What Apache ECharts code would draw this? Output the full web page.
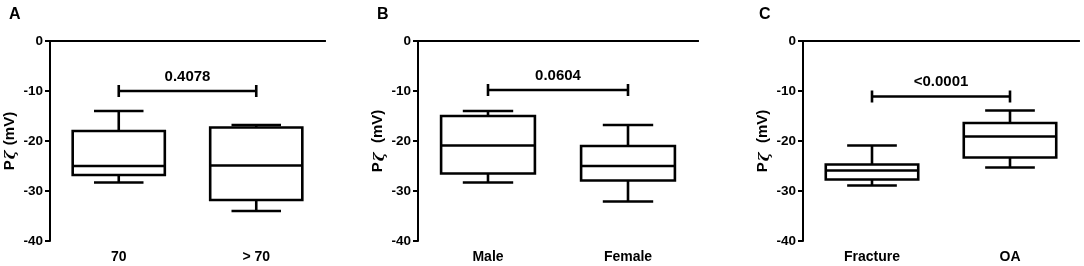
<!DOCTYPE html>
<html>
<head>
<meta charset="utf-8">
<script src="https://cdn.jsdelivr.net/npm/echarts@6/dist/echarts.min.js"></script>
<style>
html,body{margin:0;padding:0;background:#fff;}
#chart{width:1084px;height:266px;}
</style>
</head>
<body>
<div id="chart"></div>
<script>
// ---- data ----
const panelLetters = ['A', 'B', 'C'];
const categoriesA = ['70', '> 70'];
const categoriesB = ['Male', 'Female'];
const categoriesC = ['Fracture', 'OA'];
// [min, Q1, median, Q3, max]
const boxesA = [[-28.3, -26.8, -25.0, -18.0, -14.0], [-34.0, -31.8, -24.9, -17.3, -16.8]];
const boxesB = [[-28.3, -26.5, -20.9, -15.0, -14.0], [-32.1, -27.9, -25.0, -21.0, -16.8]];
const boxesC = [[-28.9, -27.7, -25.9, -24.7, -20.9], [-25.3, -23.3, -19.1, -16.4, -13.9]];
const pValues = ['0.4078', '0.0604', '<0.0001'];
const bracketY = [-10.0, -9.8, -11.1];
const yTickMin = -40, yTickMax = 0, yTickStep = 10;
const yTitles = ['{b|P}{z|\u03B6}{b| (mV)}', '{b|P}{z|\u03B6}{b|  (mV)}', '{b|P}{z|\u03B6}{b|  (mV)}'];

// ---- layout ----
const FONT = '"Liberation Sans", Arial, Helvetica, sans-serif';
const grids = [
  {left: 50, top: 41, width: 275, height: 200},
  {left: 418, top: 41, width: 280, height: 200},
  {left: 803, top: 41, width: 276, height: 200}
];
const nameGaps = [31, 25, 30];
const letterLeft = [4, 372, 754];
const cats = [categoriesA, categoriesB, categoriesC];
const boxes = [boxesA, boxesB, boxesC];

const xAxes = [], yAxes = [], series = [], titles = [];
grids.forEach((g, i) => {
  titles.push({text: panelLetters[i], left: letterLeft[i], top: 2,
    textStyle: {fontFamily: FONT, fontSize: 16, fontWeight: 'bold', color: '#000'}});
  xAxes.push({type: 'category', gridIndex: i, data: cats[i], position: 'bottom',
    axisLine: {lineStyle: {color: '#000', width: 2}}, axisTick: {show: false},
    axisLabel: {fontFamily: FONT, fontSize: 14, fontWeight: 'bold', color: '#000', margin: 9}});
  xAxes.push({type: 'category', gridIndex: i, data: cats[i], position: 'top',
    axisLine: {show: true, lineStyle: {color: '#000', width: 2}}, axisTick: {show: false},
    axisLabel: {show: false}});
  yAxes.push({type: 'value', gridIndex: i, min: yTickMin, max: yTickMax, interval: yTickStep,
    name: yTitles[i], nameLocation: 'middle', nameGap: nameGaps[i], nameRotate: 90,
    nameTextStyle: {fontFamily: FONT, fontSize: 15, fontWeight: 'bold', color: '#000',
      rich: {
        b: {fontFamily: FONT, fontSize: 15, fontWeight: 'bold', color: '#000'},
        z: {fontFamily: '"DejaVu Serif", serif', fontSize: 15, fontStyle: 'italic', color: '#000', padding: [4, 1, 0, 1]}
      }},
    axisLine: {show: true, lineStyle: {color: '#000', width: 2}},
    axisTick: {show: true, length: 5, lineStyle: {color: '#000', width: 2}},
    axisLabel: {fontFamily: FONT, fontSize: 13.5, fontWeight: 'bold', color: '#000', margin: 7},
    splitLine: {show: false}});
  series.push({
    type: 'custom', xAxisIndex: i * 2, yAxisIndex: i,
    data: boxes[i].map((b, k) => [k].concat(b)),
    encode: {x: 0, y: [1, 2, 3, 4, 5]},
    renderItem: function (params, api) {
      const k = api.value(0);
      const pMin = api.coord([k, api.value(1)]);
      const pQ1 = api.coord([k, api.value(2)]);
      const pMed = api.coord([k, api.value(3)]);
      const pQ3 = api.coord([k, api.value(4)]);
      const pMax = api.coord([k, api.value(5)]);
      const band = api.size([1, 0])[0];
      const hw = band * 0.335;
      const cw = band * 0.18;
      const cx = pMed[0];
      const st = {stroke: '#000', lineWidth: 2.6, fill: null};
      return {type: 'group', children: [
        {type: 'line', shape: {x1: cx, y1: pMax[1], x2: cx, y2: pQ3[1]}, style: st},
        {type: 'line', shape: {x1: cx, y1: pMin[1], x2: cx, y2: pQ1[1]}, style: st},
        {type: 'line', shape: {x1: cx - cw, y1: pMax[1], x2: cx + cw, y2: pMax[1]}, style: st},
        {type: 'line', shape: {x1: cx - cw, y1: pMin[1], x2: cx + cw, y2: pMin[1]}, style: st},
        {type: 'rect', shape: {x: cx - hw, y: pQ3[1], width: 2 * hw, height: pQ1[1] - pQ3[1]},
          style: {stroke: '#000', lineWidth: 2.6, fill: '#fff'}},
        {type: 'line', shape: {x1: cx - hw, y1: pMed[1], x2: cx + hw, y2: pMed[1]}, style: st}
      ]};
    }
  });
  series.push({
    type: 'custom', xAxisIndex: i * 2, yAxisIndex: i,
    data: [[0, 1, bracketY[i]]],
    encode: {x: [0, 1], y: 2},
    renderItem: function (params, api) {
      const a = api.coord([api.value(0), api.value(2)]);
      const b = api.coord([api.value(1), api.value(2)]);
      const st = {stroke: '#000', lineWidth: 2.6, fill: null};
      return {type: 'group', children: [
        {type: 'line', shape: {x1: a[0], y1: a[1], x2: b[0], y2: b[1]}, style: st},
        {type: 'line', shape: {x1: a[0], y1: a[1] - 6, x2: a[0], y2: a[1] + 6}, style: st},
        {type: 'line', shape: {x1: b[0], y1: b[1] - 6, x2: b[0], y2: b[1] + 6}, style: st},
        {type: 'text', style: {text: pValues[i], x: (a[0] + b[0]) / 2, y: a[1] - 7,
          align: 'center', verticalAlign: 'bottom', fill: '#000',
          font: 'bold 15px ' + FONT}}
      ]};
    }
  });
});

const chart = echarts.init(document.getElementById('chart'), null, {renderer: 'canvas'});
chart.setOption({
  animation: false,
  backgroundColor: '#fff',
  title: titles,
  grid: grids,
  xAxis: xAxes,
  yAxis: yAxes,
  series: series
});
</script>
</body>
</html>
